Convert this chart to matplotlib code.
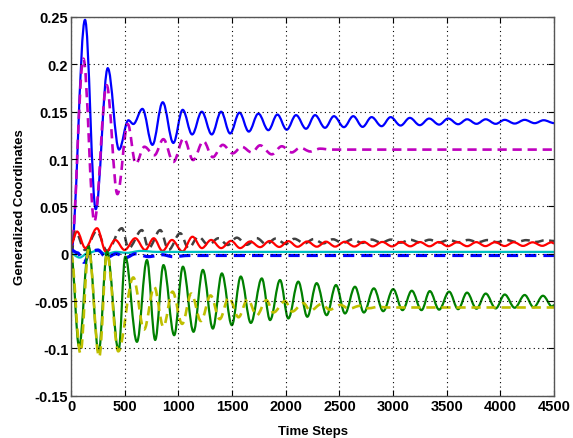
import numpy as np
import matplotlib.pyplot as plt

from matplotlib.path import Path
from matplotlib.patches import PathPatch

# extrema (time step, value)
blue_t = [0, 130, 230, 342, 447, 534, 580, 665, 758, 854, 953, 1040, 1128, 1218, 1311,
          1398, 1482, 1569, 1656, 1745, 1838, 1922, 2009, 2096, 2189, 2273, 2366, 2449,
          2542, 2629, 2716, 2800, 2893, 2977, 3070, 3156, 3249, 3336, 3429, 3513, 3606,
          3690, 3777, 3863, 3956, 4040, 4133, 4226, 4319, 4403, 4500]
blue_v = [0.0, 0.247, 0.047, 0.196, 0.110, 0.141, 0.137, 0.153, 0.115, 0.160, 0.117,
          0.152, 0.126, 0.150, 0.126, 0.150, 0.127, 0.149, 0.129, 0.148, 0.1305, 0.147,
          0.131, 0.1464, 0.132, 0.1464, 0.133, 0.1453, 0.1337, 0.1453, 0.134, 0.1443,
          0.1347, 0.1443, 0.1354, 0.1435, 0.1358, 0.1428, 0.1364, 0.1428, 0.1368, 0.142,
          0.1372, 0.142, 0.1372, 0.1414, 0.1375, 0.1414, 0.1379, 0.141, 0.138]

mag_t = [0, 115, 217, 332, 432, 528, 603, 683, 776, 860, 953, 1050, 1137, 1233, 1320,
         1413, 1506, 1590, 1684, 1761, 1870, 1963, 2056, 2134, 2230, 2320, 2420, 4500]
mag_v = [0.0, 0.206, 0.034, 0.178, 0.063, 0.137, 0.095, 0.113, 0.104, 0.121, 0.097,
         0.122, 0.099, 0.119, 0.102, 0.115, 0.106, 0.113, 0.107, 0.1145, 0.105, 0.1135,
         0.107, 0.112, 0.108, 0.111, 0.110, 0.110]

gray_t = [0, 40, 130, 240, 335, 474, 536, 660, 722, 831, 908, 1017, 1094, 1187, 1280,
          1373, 1460, 1544, 1637, 1730, 1820, 1905, 2000, 2080, 2175, 2260, 2350, 2440,
          2530, 2620, 2710, 2800, 2890, 2980, 3070, 3160, 3250, 3340, 3430, 3520, 3610,
          3700, 3790, 3880, 3970, 4060, 4150, 4240, 4330, 4420, 4500]
gray_v = [0.0, 0.0235, 0.004, 0.024, 0.003, 0.027, 0.006, 0.025, 0.006, 0.025, 0.004,
          0.0217, 0.006, 0.018, 0.0093, 0.0164, 0.0093, 0.017, 0.0095, 0.0165, 0.010,
          0.016, 0.0105, 0.0158, 0.011, 0.0155, 0.011, 0.0153, 0.0113, 0.0152, 0.0115,
          0.015, 0.0117, 0.015, 0.0118, 0.0148, 0.012, 0.0148, 0.012, 0.0146, 0.0122,
          0.0146, 0.0122, 0.0145, 0.0123, 0.0145, 0.0124, 0.0144, 0.0125, 0.0143, 0.0135]

red_t = [0, 56, 133, 242, 326, 412, 499, 598, 691, 770, 852, 940, 1038, 1131, 1219, 1305,
         1398, 1491, 1575, 1668, 1761, 1850, 1940, 2025, 2110, 2200, 2290, 2375, 2460, 2550,
         2640, 2725, 2810, 2900, 2990, 3075, 3160, 3250, 3340, 3425, 3510, 3600, 3690, 3775,
         3860, 3950, 4040, 4125, 4210, 4300, 4390, 4475, 4500]
red_v = [0.010, 0.0235, 0.006, 0.027, 0.002, 0.0146, 0.004, 0.0164, 0.004, 0.0164, 0.003,
         0.0146, 0.0025, 0.018, 0.006, 0.0146, 0.006, 0.0136, 0.006, 0.013, 0.007, 0.0135,
         0.0072, 0.0133, 0.0074, 0.013, 0.0075, 0.0128, 0.0076, 0.0127, 0.0077, 0.0126,
         0.0078, 0.0125, 0.0078, 0.0125, 0.0079, 0.0124, 0.0079, 0.0124, 0.008, 0.0123,
         0.008, 0.0123, 0.0081, 0.0122, 0.0082, 0.0122, 0.0083, 0.0121, 0.0084, 0.012, 0.011]

cyan_t = [0, 80, 160, 240, 330, 420, 520, 650, 800, 1000, 4500]
cyan_v = [0.0, -0.004, 0.001, 0.003, 0.0, 0.002, 0.001, 0.003, 0.002, 0.002, 0.002]

bdash_t = [0, 60, 120, 180, 250, 330, 420, 510, 600, 720, 850, 950, 1100, 4500]
bdash_v = [0.004, 0.001, -0.009, 0.002, 0.004, -0.004, 0.0, -0.004, 0.0, -0.003, -0.001,
           -0.003, -0.0018, -0.0018]

green_t = [0, 75, 164, 257, 335, 443, 505, 614, 707, 784, 861, 961, 1042, 1141, 1228,
           1321, 1405, 1498, 1581, 1675, 1777, 1854, 1947, 2024, 2117, 2201, 2288, 2381,
           2468, 2552, 2645, 2728, 2821, 2908, 3001, 3088, 3174, 3265, 3342, 3429, 3522,
           3606, 3689, 3777, 3863, 3956, 4040, 4133, 4226, 4310, 4396, 4484, 4500]
green_v = [0.0, -0.098, 0.0076, -0.1036, 0.0023, -0.102, -0.003, -0.093, -0.0066, -0.091,
           -0.0119, -0.086, -0.0136, -0.0824, -0.017, -0.079, -0.0207, -0.0754, -0.024,
           -0.073, -0.026, -0.070, -0.0277, -0.0683, -0.0294, -0.0665, -0.031, -0.0648,
           -0.033, -0.063, -0.0348, -0.062, -0.0365, -0.0606, -0.0373, -0.0595, -0.039,
           -0.0595, -0.0394, -0.059, -0.040, -0.0585, -0.041, -0.058, -0.042, -0.0577,
           -0.043, -0.057, -0.0435, -0.0565, -0.0443, -0.056, -0.054]

yel_t = [0, 87, 164, 262, 335, 440, 580, 680, 775, 860, 945, 1035, 1120, 1210, 1300, 1385,
         1470, 1560, 1645, 1730, 1820, 1885, 1993, 2060, 2163, 2230, 2334, 2410, 2510, 2590,
         2690, 2770, 2865, 2950, 4500]
yel_v = [0.0, -0.105, 0.005, -0.109, 0.0, -0.103, -0.025, -0.080, -0.035, -0.077, -0.040,
         -0.074, -0.042, -0.071, -0.044, -0.069, -0.046, -0.067, -0.048, -0.065, -0.049,
         -0.062, -0.050, -0.061, -0.052, -0.060, -0.053, -0.059, -0.054, -0.058, -0.055,
         -0.0575, -0.056, -0.0567, -0.0567]

xticks = [0, 500, 1000, 1500, 2000, 2500, 3000, 3500, 4000, 4500]
yticks = [-0.15, -0.1, -0.05, 0, 0.05, 0.1, 0.15, 0.2, 0.25]
ytick_labels = ['-0.15', '-0.1', '-0.05', '0', '0.05', '0.1', '0.15', '0.2', '0.25']

DASH = (0, (3.5, 2.2))


# smooth curve through the extrema: cubic pieces with flat tangents at each point
def curva(ax, t, v, **kw):
  k = 0.36
  verts = [(t[0], v[0])]
  codes = [Path.MOVETO]
  for i in range(len(t) - 1):
    dt = t[i+1] - t[i]
    verts += [(t[i] + k*dt, v[i]), (t[i+1] - k*dt, v[i+1]), (t[i+1], v[i+1])]
    codes += [Path.CURVE4] * 3
  ax.add_patch(PathPatch(Path(verts, codes), fill=False, capstyle='butt',
                         joinstyle='round', **kw))


def main():
  plt.rcParams['font.family'] = ['Liberation Sans', 'DejaVu Sans']

  fig = plt.figure(figsize=(5.73, 4.39), dpi=100)
  ax = fig.add_axes([0.124, 0.096, 0.843, 0.863])

  #* series, drawn in the original order
  curva(ax, blue_t, blue_v, edgecolor='#0000ff', lw=1.6)
  curva(ax, mag_t, mag_v, edgecolor='#bf00bf', lw=1.9, ls=DASH)
  curva(ax, gray_t, gray_v, edgecolor='#404040', lw=1.8, ls=DASH)
  curva(ax, red_t, red_v, edgecolor='#ff0000', lw=1.6)
  curva(ax, cyan_t, cyan_v, edgecolor='#00bfbf', lw=1.6)
  curva(ax, bdash_t, bdash_v, edgecolor='#0000ff', lw=2.3, ls=DASH)
  curva(ax, green_t, green_v, edgecolor='#008000', lw=1.6)
  curva(ax, yel_t, yel_v, edgecolor='#bfbf00', lw=1.9, ls=DASH)

  ax.set_xlim(0, 4500)
  ax.set_ylim(-0.15, 0.25)
  ax.set_xticks(xticks)
  ax.set_yticks(yticks)
  ax.set_yticklabels(ytick_labels)
  ax.grid(True, color='black', ls=(0, (1, 3)), lw=0.8)
  ax.tick_params(direction='in', top=True, right=True, length=4, labelsize=10.5, pad=2)
  for lab in ax.get_xticklabels() + ax.get_yticklabels():
    lab.set_fontweight('bold')
  for s in ax.spines.values():
    s.set_color('#555555')
    s.set_linewidth(1.0)

  ax.set_xlabel('Time Steps', fontsize=9.5, fontweight='bold', labelpad=9)
  ax.set_ylabel('Generalized Coordinates', fontsize=9.5, fontweight='bold', labelpad=6)

  fig.savefig('out.png', dpi=100)


if __name__ == "__main__":
  main()
